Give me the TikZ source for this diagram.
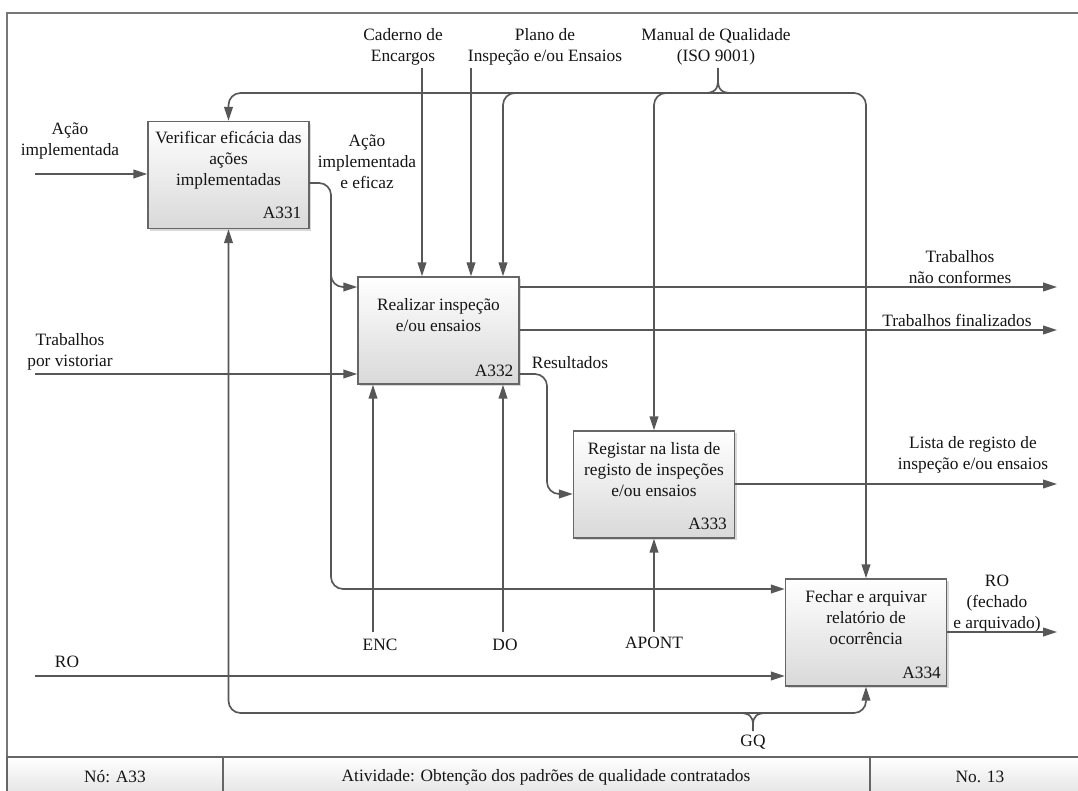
\documentclass[tikz,border=0pt]{standalone}
\usepackage{fontspec}
\setmainfont{Liberation Serif}
\usetikzlibrary{arrows.meta,shadows,calc}
\definecolor{linegray}{HTML}{575757}
\definecolor{boxborder}{HTML}{666666}
\definecolor{framegray}{HTML}{777777}
\definecolor{ink}{HTML}{141414}

\begin{document}
\begin{tikzpicture}[x=0.75pt,y=-0.75pt,
  font=\fontsize{13}{15.75}\selectfont,
  act/.style={draw=boxborder, line width=1pt, top color=white, bottom color=black!15,
    minimum width=120.75pt, minimum height=80.25pt, inner sep=0pt,
    drop shadow={shadow xshift=1.6pt, shadow yshift=-1.6pt, opacity=0.3}},
  boxtxt/.style={align=center, inner sep=0pt, text=ink},
  lbl/.style={align=center, inner sep=0pt, text=ink},
  code/.style={anchor=east, inner sep=0pt, text=ink},
  wire/.style={draw=linegray, line width=1.25pt},
  flow/.style={wire, -{Triangle[length=10.5pt,width=6.5pt]}},
  cell/.style={draw=boxborder, line width=1pt, top color=white, bottom color=black!12},
]
\useasboundingbox (0,0) rectangle (1078,791);

% page frame and footer
\draw[framegray, line width=1.2pt] (7,13) rectangle (1084,800);
\path[cell] (7,757) rectangle (223,800);
\path[cell] (223,757) rectangle (870,800);
\path[cell] (870,757) rectangle (1084,800);
\node[lbl] (fnode) at (115,777) {Nó: A33};
\node[lbl] (fact) at (546,777) {Atividade: Obtenção dos padrões de qualidade contratados};
\node[lbl] (fno) at (980,777) {No. 13};

% activity boxes
\node[act] (A331) at (228.5,175) {};
\node[act] (A332) at (438.5,330.5) {};
\node[act] (A333) at (654,484.5) {};
\node[act] (A334) at (866,632.5) {};

\node[boxtxt] (t331) at ($(A331.center)+(0,-15)$) {Verificar eficácia das\\ações\\implementadas};
\node[boxtxt] (t332) at ($(A332.center)+(0,-15)$) {Realizar inspeção\\e/ou ensaios};
\node[boxtxt] (t333) at ($(A333.center)+(0,-15)$) {Registar na lista de\\registo de inspeções\\e/ou ensaios};
\node[boxtxt] (t334) at ($(A334.center)+(0,-15)$) {Fechar e arquivar\\relatório de\\ocorrência};

\node[code] (c331) at ($(A331.south east)+(-8,-16)$) {A331};
\node[code] (c332) at ($(A332.south east)+(-6,-14)$) {A332};
\node[code] (c333) at ($(A333.south east)+(-8,-15)$) {A333};
\node[code] (c334) at ($(A334.south east)+(-6,-14)$) {A334};

% arrow labels
\node[lbl] (lCad) at (403,47) {Caderno de\\Encargos};
\node[lbl] (lPlano) at (545,47) {Plano de\\Inspeção e/ou Ensaios};
\node[lbl] (lMQ) at (716,47) {Manual de Qualidade\\(ISO 9001)};
\node[lbl] (lAcao) at (70,141.5) {Ação\\implementada};
\node[lbl] (lEficaz) at (367,162) {Ação\\implementada\\e eficaz};
\node[lbl] (lTrab) at (70,351.5) {Trabalhos\\por vistoriar};
\node[lbl] (lRes) at (570,363) {Resultados};
\node[lbl] (lNC) at (960,267.5) {Trabalhos\\não conformes};
\node[lbl] (lTF) at (957,320) {Trabalhos finalizados};
\node[lbl] (lLista) at (973,455) {Lista de registo de\\inspeção e/ou ensaios};
\node[lbl] (lROout) at (997,604) {RO\\(fechado\\e arquivado)};
\node[lbl] (lROin) at (67,662) {RO};
\node[lbl] (lENC) at (380,645) {ENC};
\node[lbl] (lDO) at (505,645) {DO};
\node[lbl] (lAPONT) at (654,643) {APONT};
\node[lbl] (lGQ) at (753,742) {GQ};

% free ends and bends of the connectors
\coordinate (inAcao) at (35,174);
\coordinate (inTrab) at (35,374);
\coordinate (inRO) at (35,676);
\coordinate (outNC) at (1057,287);
\coordinate (outTF) at (1057,330);
\coordinate (outLista) at (1057,484);
\coordinate (outRO) at (1057,632);
\coordinate (cadEnd) at (422,68);
\coordinate (planoEnd) at (471,68);
\coordinate (encEnd) at (373,632);
\coordinate (doEnd) at (503,632);
\coordinate (apontEnd) at (654,632);
\coordinate (mqTip) at (718,68);
\coordinate (mqBus) at (718,93);
\coordinate (mqA) at (503,93);
\coordinate (mqB) at (654,93);
\coordinate (gqBus) at (753,713);
\coordinate (effX) at (331,183);
\coordinate (effDown) at (331,589);
\coordinate (effBr) at (331,287);
\coordinate (resX) at (547,374);
\coordinate (resY) at (547,494);

% inputs
\draw[flow] (inAcao) -- (inAcao -| A331.west);
\draw[flow] (inTrab) -- (inTrab -| A332.west);
\draw[flow] (inRO) -- (inRO -| A334.west);

% outputs
\draw[flow] (outNC -| A332.east) -- (outNC);
\draw[flow] (outTF -| A332.east) -- (outTF);
\draw[flow] (outLista -| A333.east) -- (outLista);
\draw[flow] (outRO -| A334.east) -- (outRO);

% effective action: A331 -> A332 and A334
\draw[flow, rounded corners=9pt] (effX -| A331.east) -- (effX) -- (effDown) -- (effDown -| A334.west);
\draw[flow, rounded corners=9pt] ($(effBr)+(0,-30)$) -- (effBr) -- (effBr -| A332.west);

% results: A332 -> A333
\draw[flow, rounded corners=9pt] (resX -| A332.east) -- (resX) -- (resY) -- (resY -| A333.west);

% controls
\draw[flow] (cadEnd) -- (cadEnd |- A332.north);
\draw[flow] (planoEnd) -- (planoEnd |- A332.north);
\draw[flow, rounded corners=9pt] (mqBus) -- (mqBus -| A331.north) -- (A331.north);
\draw[flow, rounded corners=9pt] (mqBus) -- (mqBus -| A334.north) -- (A334.north);
\draw[flow, rounded corners=9pt] ($(mqA)+(30,0)$) -- (mqA) -- (mqA |- A332.north);
\draw[flow, rounded corners=9pt] ($(mqB)+(30,0)$) -- (mqB) -- (A333.north);
\draw[wire] (mqTip) -- ($(mqTip)+(0,12)$)
  .. controls ($(mqTip)+(0,22)$) and ($(mqTip)+(-4,25)$) .. ($(mqTip)+(-14,25)$);
\draw[wire] ($(mqTip)+(0,12)$)
  .. controls ($(mqTip)+(0,22)$) and ($(mqTip)+(4,25)$) .. ($(mqTip)+(14,25)$);

% mechanisms
\draw[flow] (encEnd) -- (encEnd |- A332.south);
\draw[flow] (doEnd) -- (doEnd |- A332.south);
\draw[flow] (apontEnd) -- (A333.south);
\draw[flow, rounded corners=9pt] (gqBus) -- (gqBus -| A331.south) -- (A331.south);
\draw[flow, rounded corners=9pt] (gqBus) -- (gqBus -| A334.south) -- (A334.south);
\draw[wire] ($(gqBus)+(-14,0)$) .. controls ($(gqBus)+(-4,0)$) and ($(gqBus)+(0,3)$) .. ($(gqBus)+(0,12)$) -- ($(gqBus)+(0,18)$);
\draw[wire] ($(gqBus)+(14,0)$) .. controls ($(gqBus)+(4,0)$) and ($(gqBus)+(0,3)$) .. ($(gqBus)+(0,12)$);
\end{tikzpicture}
\end{document}
